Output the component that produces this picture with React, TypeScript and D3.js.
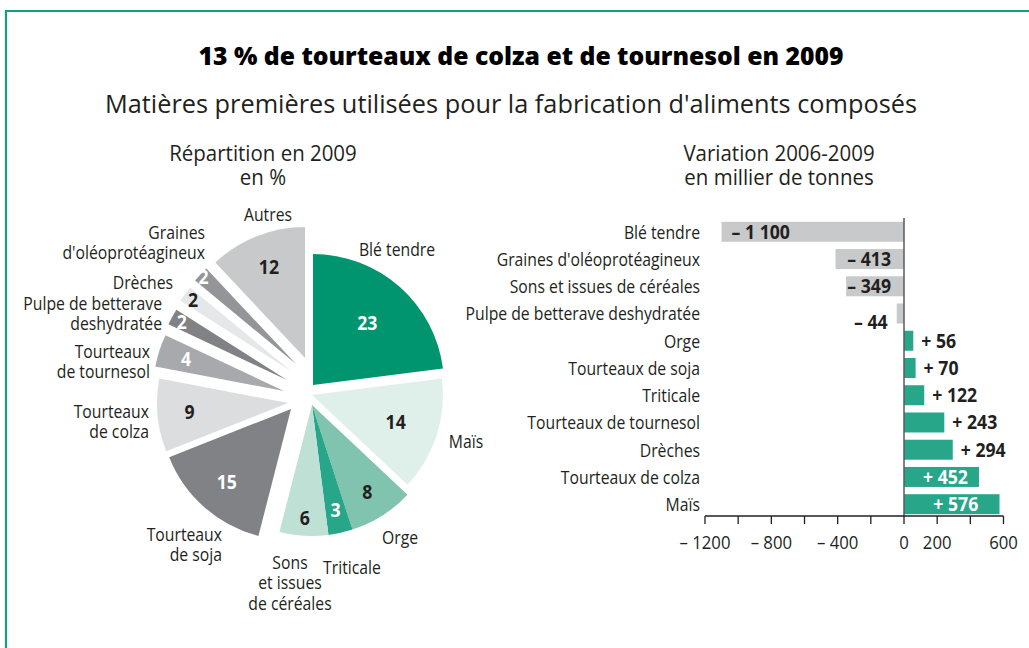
import React from "react";
import * as d3 from "d3";

// ---------- DATA ----------
const pieCategories = [
  "Blé tendre",
  "Maïs",
  "Orge",
  "Triticale",
  "Sons et issues de céréales",
  "Tourteaux de soja",
  "Tourteaux de colza",
  "Tourteaux de tournesol",
  "Pulpe de betterave deshydratée",
  "Drèches",
  "Graines d'oléoprotéagineux",
  "Autres",
];
const pieValues = [23, 14, 8, 3, 6, 15, 9, 4, 2, 2, 2, 12];

const barCategories = [
  "Blé tendre",
  "Graines d'oléoprotéagineux",
  "Sons et issues de céréales",
  "Pulpe de betterave deshydratée",
  "Orge",
  "Tourteaux de soja",
  "Triticale",
  "Tourteaux de tournesol",
  "Drèches",
  "Tourteaux de colza",
  "Maïs",
];
const barValues = [-1100, -413, -349, -44, 56, 70, 122, 243, 294, 452, 576];

const xTicks = [-1200, -1000, -800, -600, -400, -200, 0, 200, 400, 600];
const xTickLabels = [-1200, -800, -400, 0, 200, 600];

const mainTitle = "13 % de tourteaux de colza et de tournesol en 2009";
const subTitle = "Matières premières utilisées pour la fabrication d'aliments composés";
const pieTitle = ["Répartition en 2009", "en %"];
const barTitle = ["Variation 2006-2009", "en millier de tonnes"];

// ---------- STYLE / LAYOUT ----------
const FONT = "'Open Sans', 'Noto Sans', 'DejaVu Sans', sans-serif";
const TEXT = "#231f20";
const FRAME = "#14a07c";
const SX_LABEL = 0.83; // horizontal condensing of label text
const SX_TITLE = 0.93;
const SX_TICK = 0.88;
const SX_BOLD = 0.93;

const pieColors = [
  "#00956f", "#dff0ea", "#80c3ae", "#27a68a", "#bfe0d4",
  "#808285", "#dcdddf", "#a7a9ac", "#808285", "#e6e7e8", "#939598", "#c8c9cb",
];
const pieValueColors = ["#fff", TEXT, TEXT, "#fff", TEXT, "#fff", TEXT, "#fff", "#fff", TEXT, "#fff", TEXT];
// explode offsets of each slice from the pie centre
const pieExplode: [number, number][] = [
  [13, -5], [12, 5], [12, 15], [12, 15], [12, 15],
  [-9, 19], [-12, 13], [-16, 1], [-13, -10], [-9, -19], [-4, -26], [5, -32],
];
const pieValueRadius = [82, 88, 103, 108, 113, 97, 99, 103, 120, 121, 127, 98];
// outer name labels: lines, anchor x, first line centre y, anchor
const pieNameLayout: { lines: string[]; x: number; y: number; anchor: string }[] = [
  { lines: ["Blé tendre"], x: 397, y: 249, anchor: "middle" },
  { lines: ["Maïs"], x: 466, y: 441, anchor: "middle" },
  { lines: ["Orge"], x: 400, y: 537, anchor: "middle" },
  { lines: ["Triticale"], x: 352, y: 567, anchor: "middle" },
  { lines: ["Sons", "et issues", "de céréales"], x: 290, y: 562, anchor: "middle" },
  { lines: ["Tourteaux", "de soja"], x: 222, y: 534, anchor: "end" },
  { lines: ["Tourteaux", "de colza"], x: 149, y: 411, anchor: "end" },
  { lines: ["Tourteaux", "de tournesol"], x: 150, y: 351, anchor: "end" },
  { lines: ["Pulpe de betterave", "deshydratée"], x: 162, y: 303, anchor: "end" },
  { lines: ["Drèches"], x: 173, y: 282, anchor: "end" },
  { lines: ["Graines", "d'oléoprotéagineux"], x: 205, y: 232, anchor: "end" },
  { lines: ["Autres"], x: 268, y: 214, anchor: "middle" },
];
const LINE_GAP = 20.5;

const PIE_CX = 300;
const PIE_CY = 390;
const PIE_R = 131;

const BAR_X0 = 705;
const BAR_X1 = 1003.5;
const BAR_Y0 = 218;
const BAR_Y1 = 518;
const AXIS_Y = 516;

const frFmt = d3.formatLocale({ decimal: ",", thousands: "\u00a0", grouping: [3], currency: ["", ""] });
const grouped = frFmt.format(",d");
const signed = (v: number) => (v < 0 ? "– " : "+ ") + grouped(Math.abs(v));
const tickFmt = (v: number) => (v < 0 ? "– " + Math.abs(v) : String(v));

type TProps = {
  x: number;
  y: number;
  sx: number;
  size: number;
  anchor?: string;
  weight?: string | number;
  fill?: string;
  lines: string[];
  gap?: number;
};
function T({ x, y, sx, size, anchor = "start", weight = "normal", fill = TEXT, lines, gap = LINE_GAP }: TProps) {
  return (
    <text
      transform={`translate(${x},${y}) scale(${sx},1)`}
      textAnchor={anchor}
      fontSize={size}
      fontWeight={weight}
      fill={fill}
    >
      {lines.map((ln, j) => (
        <tspan key={j} x={0} y={j * gap} dy="0.36em">
          {ln}
        </tspan>
      ))}
    </text>
  );
}

export default function App() {
  const pie = d3.pie<number>().sort(null).value((d) => d).startAngle(0).endAngle(2 * Math.PI);
  const arcs = pie(pieValues);
  const arcGen = d3.arc<d3.PieArcDatum<number>>().innerRadius(0).outerRadius(PIE_R);

  const x = d3.scaleLinear().domain([-1200, 600]).range([BAR_X0, BAR_X1]);
  const y = d3.scaleBand<string>().domain(barCategories).range([BAR_Y0, BAR_Y1]).paddingInner(0.266).paddingOuter(0.14);
  const bw = y.bandwidth();

  return (
    <svg
      width={1029}
      height={648}
      style={{ position: "absolute", left: 0, top: 0, background: "#fff" }}
      fontFamily={FONT}
    >
      <rect x={0} y={0} width={1029} height={648} fill="#fff" />
      {/* frame */}
      <path d="M6,648 V11 H1029" fill="none" stroke={FRAME} strokeWidth={2.2} />

      {/* titles */}
      <text x={521} y={65} textAnchor="middle" fontSize={24} fontWeight={800} fill="#000" textLength={645} lengthAdjust="spacingAndGlyphs">
        {mainTitle}
      </text>
      <text x={511} y={113} textAnchor="middle" fontSize={26} fill={TEXT} textLength={812} lengthAdjust="spacingAndGlyphs">
        {subTitle}
      </text>
      <T x={263} y={153} sx={SX_TITLE} size={22} anchor="middle" lines={pieTitle} gap={24} />
      <T x={779} y={153} sx={SX_TITLE} size={22} anchor="middle" lines={barTitle} gap={24} />

      {/* pie */}
      <g transform={`translate(${PIE_CX},${PIE_CY})`}>
        {arcs.map((a, i) => {
          const [dx, dy] = pieExplode[i];
          return (
            <path key={"s" + i} d={arcGen(a) || ""} transform={`translate(${dx},${dy})`} fill={pieColors[i]} />
          );
        })}
      </g>
      {arcs.map((a, i) => {
        const [dx, dy] = pieExplode[i];
        const mid = (a.startAngle + a.endAngle) / 2;
        const lr = pieValueRadius[i];
        const lx = PIE_CX + dx + lr * Math.sin(mid);
        const ly = PIE_CY + dy - lr * Math.cos(mid);
        return (
          <T
            key={"v" + i}
            x={lx}
            y={ly}
            sx={SX_BOLD}
            size={19}
            anchor="middle"
            weight="bold"
            fill={pieValueColors[i]}
            lines={[String(pieValues[i])]}
          />
        );
      })}
      {pieNameLayout.map((l, i) => (
        <T key={"pn" + i} x={l.x} y={l.y} sx={SX_LABEL} size={19} anchor={l.anchor} lines={l.lines} />
      ))}

      {/* bars */}
      {barCategories.map((c, i) => {
        const v = barValues[i];
        const y0 = y(c) as number;
        const xa = x(Math.min(0, v));
        const xb = x(Math.max(0, v));
        const cy = y0 + bw / 2;
        let lx = 0;
        let anchor = "start";
        let col = TEXT;
        let ldy = 0;
        if (v < -1000) {
          lx = xa + 10;
          anchor = "start";
        } else if (v < -300) {
          lx = xb - 13;
          anchor = "end";
        } else if (v < 0) {
          lx = xa - 9;
          anchor = "end";
          ldy = 9;
        } else if (v > 400) {
          lx = (xa + xb) / 2 + 4;
          anchor = "middle";
          col = "#fff";
        } else {
          lx = xb + 8;
          anchor = "start";
        }
        return (
          <g key={"b" + i}>
            <rect x={xa} y={y0} width={xb - xa} height={bw} fill={v < 0 ? "#c8c9cb" : "#27a68a"} />
            <T x={700} y={cy} sx={SX_LABEL} size={19} anchor="end" lines={[c]} />
            <T x={lx} y={cy + ldy} sx={SX_BOLD} size={19} anchor={anchor} weight="bold" fill={col} lines={[signed(v)]} />
          </g>
        );
      })}
      {/* zero line */}
      <line x1={x(0)} x2={x(0)} y1={BAR_Y0} y2={AXIS_Y} stroke="#58595b" strokeWidth={1.5} />
      {/* axis */}
      <line x1={x(-1200)} x2={x(600)} y1={AXIS_Y} y2={AXIS_Y} stroke="#231f20" strokeWidth={1.5} />
      {xTicks.map((t) => (
        <line key={"t" + t} x1={x(t)} x2={x(t)} y1={AXIS_Y} y2={AXIS_Y + 8} stroke="#231f20" strokeWidth={1.3} />
      ))}
      {xTickLabels.map((t) => (
        <T key={"tl" + t} x={x(t)} y={542} sx={SX_TICK} size={19} anchor="middle" lines={[tickFmt(t)]} />
      ))}
    </svg>
  );
}
